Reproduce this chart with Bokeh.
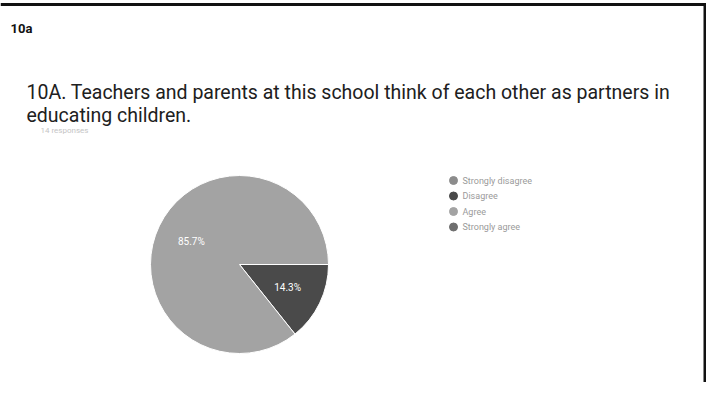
import numpy as np
from bokeh.plotting import figure
from bokeh.models import Range1d, ColumnDataSource
from bokeh.core.properties import value
from bokeh.embed import file_html
from bokeh.resources import INLINE

# ---- data ----
categories = ["Strongly disagree", "Disagree", "Agree", "Strongly agree"]
counts = [0, 2, 12, 0]
colors = ["#8c8c8c", "#4a4a4a", "#a3a3a3", "#6e6e6e"]
section_label = "10a"
title_lines = ["10A. Teachers and parents at this school think of each other as partners in",
               "educating children."]
responses_label = "14 responses"

W, H = 706, 382
p = figure(width=W, height=H, output_backend="svg", toolbar_location=None,
           x_range=Range1d(0, W), y_range=Range1d(0, H), min_border=0)
p.axis.visible = False
p.grid.visible = False
p.outline_line_color = None
p.background_fill_color = "white"
p.border_fill_color = "white"


def Y(v):
    # screen y (from top) -> data y
    return H - v


# frame lines of the scanned page
p.segment(x0=[0], y0=[Y(4)], x1=[706], y1=[Y(4)], line_color="#111111", line_width=3)
p.segment(x0=[704.5], y0=[Y(3)], x1=[704.5], y1=[Y(382)], line_color="#111111", line_width=3)

# texts
p.text(x=[10], y=[Y(28)], text=[section_label], text_font=value("Roboto"),
       text_font_style="bold", text_font_size="13px", text_color="#111111",
       text_baseline="middle")
p.text(x=[26, 26], y=[Y(92), Y(115)], text=title_lines, text_font=value("Roboto"),
       text_font_size="19.5px", text_color="#202020", text_baseline="middle")
p.text(x=[40], y=[Y(130)], text=[responses_label], text_font=value("Roboto"),
       text_font_size="8px", text_color="#c4c4c4", text_baseline="middle")

# pie
vals = np.array(counts, dtype=float)
frac = vals / vals.sum()
ang = frac * 2 * np.pi
ends = -np.cumsum(ang)
starts = ends + ang
keep = vals > 0
cx, cy, r = 239, Y(264), 89
src = ColumnDataSource(dict(start=starts[keep], end=ends[keep],
                            color=np.array(colors)[keep],
                            cat=np.array(categories)[keep]))
p.wedge(x=cx, y=cy, radius=r, start_angle="start", end_angle="end",
        direction="clock", fill_color="color", line_color="white", line_width=1,
        source=src)

# slice labels
mids = (starts + ends) / 2
lab_x, lab_y, lab_t = [], [], []
for m, f in zip(mids, frac):
    if f > 0:
        lab_x.append(cx + 0.6 * r * np.cos(m))
        lab_y.append(cy + 0.6 * r * np.sin(m))
        lab_t.append(f"{f * 100:.1f}%")
p.text(x=lab_x, y=lab_y, text=lab_t, text_font=value("Roboto"), text_font_size="10px",
       text_color="white", text_align="center", text_baseline="middle")

# legend
leg_x = 453
leg_y = [Y(180 + i * 15.5) for i in range(len(categories))]
p.scatter(x=[leg_x] * len(categories), y=leg_y, size=8, fill_color=colors,
          line_color=colors, marker="circle")
p.text(x=[leg_x + 9] * len(categories), y=leg_y, text=categories,
       text_font=value("Roboto"), text_font_size="9px", text_color="#9a9a9a",
       text_baseline="middle")

open("out.html", "w").write(file_html(p, INLINE))
